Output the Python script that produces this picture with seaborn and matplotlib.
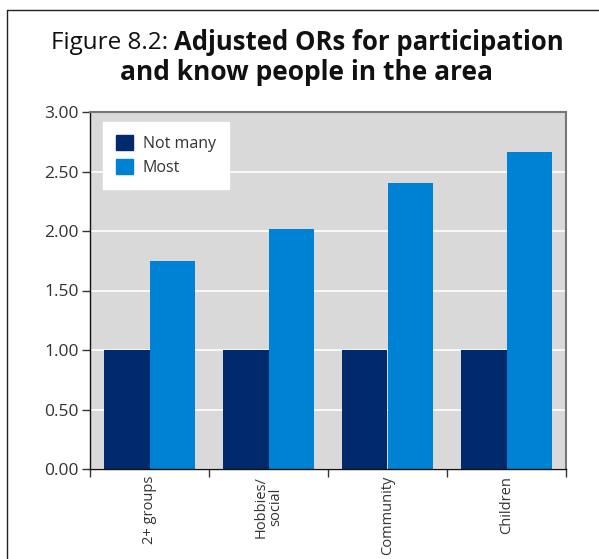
import numpy as np
import pandas as pd
import matplotlib
matplotlib.use("Agg")
import matplotlib.pyplot as plt
import seaborn as sns
from matplotlib.lines import Line2D

categories = ["2+ groups", "Hobbies/\nsocial", "Community", "Children"]
not_many = [1.00, 1.00, 1.00, 1.00]
most = [1.75, 2.02, 2.40, 2.66]
series = ["Not many", "Most"]
colors = ["#002a6c", "#0082d4"]
yticks = [0.0, 0.5, 1.0, 1.5, 2.0, 2.5, 3.0]

df = pd.DataFrame({
    "category": categories * 2,
    "group": [series[0]] * 4 + [series[1]] * 4,
    "value": not_many + most,
})

sns.set_style("white")
plt.rcParams["font.family"] = ["Open Sans", "DejaVu Sans"]

W, H = 599, 559
fig = plt.figure(figsize=(W / 100, H / 100), dpi=100)
ax = fig.add_axes([90 / W, 1 - 469 / H, 476 / W, 357 / H])

sns.barplot(data=df, x="category", y="value", hue="group", palette=colors,
            width=0.76, saturation=1, ax=ax, legend=False, linewidth=0)

txt = "#333333"
ax.set_facecolor("#d9d9d9")
ax.set_ylim(0, 3)
ax.set_xlim(-0.5, 3.5)
ax.set_yticks(yticks)
ax.set_yticklabels([f"{t:.2f}" for t in yticks], fontsize=12.5, color=txt)
ax.yaxis.grid(True, color="white", lw=1.2)
ax.set_axisbelow(True)
ax.tick_params(axis="y", length=6, width=1, color="#333333", pad=2, left=True)

ax.set_xticks(range(4))
ax.set_xticklabels(categories, rotation=90, fontsize=10.5, color=txt,
                   va="top", ha="center", multialignment="center", linespacing=0.95)
ax.tick_params(axis="x", which="major", length=0, pad=5)
ax.set_xticks(np.arange(-0.5, 4, 1), minor=True)
ax.tick_params(axis="x", which="minor", length=6, width=1, color="#333333", bottom=True)
ax.set_xlabel("")
ax.set_ylabel("")

for s in ["left", "bottom"]:
    ax.spines[s].set_color("#111111")
    ax.spines[s].set_linewidth(1)
for s in ["top", "right"]:
    ax.spines[s].set_visible(True)
    ax.spines[s].set_color("#777777")
    ax.spines[s].set_linewidth(1.5)

handles = [plt.Rectangle((0, 0), 1, 1, color=c) for c in colors]
leg = ax.legend(handles, series, loc="upper left", bbox_to_anchor=(0.027, 0.972),
                frameon=True, fancybox=False, framealpha=1, edgecolor="white",
                fontsize=11.5, handlelength=1.1, handleheight=1.1, handletextpad=0.6,
                borderpad=0.8, labelspacing=0.45, borderaxespad=0)
for t in leg.get_texts():
    t.set_color(txt)

# outer frame
fig.add_artist(Line2D([7 / W, 1], [1 - 10 / H, 1 - 10 / H], color="#222222", lw=1,
                      transform=fig.transFigure))
fig.add_artist(Line2D([7 / W, 7 / W], [0, 1 - 10 / H], color="#222222", lw=1,
                      transform=fig.transFigure))

# title
fig.text(174 / W, 1 - 43 / H, "Figure 8.2: ", ha="right", va="center",
         fontsize=17.5, color="#111111")
fig.text(174 / W, 1 - 43 / H, "Adjusted ORs for participation", ha="left",
         va="center", fontsize=18.5, fontweight="bold", color="#111111")
fig.text(307 / W, 1 - 72 / H, "and know people in the area", ha="center",
         va="center", fontsize=19, fontweight="bold", color="#111111")

fig.savefig("out.png", dpi=100)
